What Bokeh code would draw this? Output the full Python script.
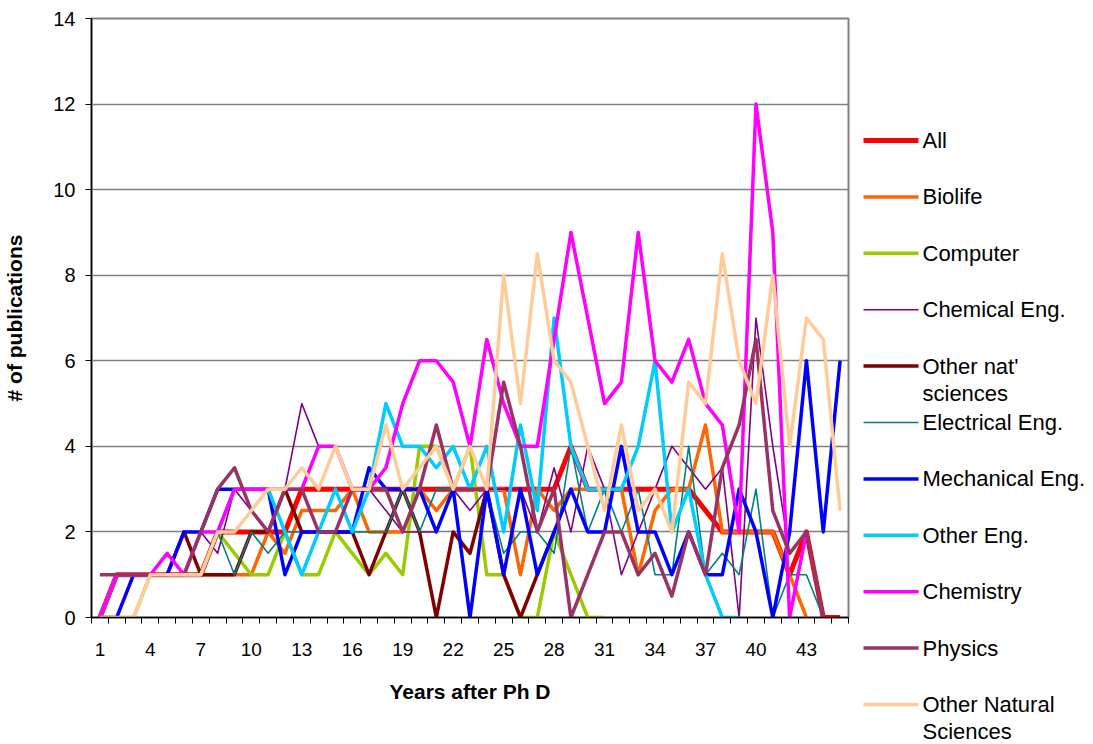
from bokeh.plotting import figure
from bokeh.models import Range1d, FixedTicker, ColumnDataSource
from bokeh.layouts import row, column
from bokeh.embed import file_html
from bokeh.resources import INLINE
from bokeh.core.properties import value

nan = float("nan")

years = list(range(1, 46))
tick_years = list(range(1, 46, 3))
y_ticks = [0, 2, 4, 6, 8, 10, 12, 14]

all_fields = [0,1,1,1,1,1,1,2,2,2, 2,2,3,3,3, 3,3,3,3,3, 3,3,3,3,3, 3,3,3,4,3,
              3,3,3,3,3, 3,2.5,2,2,2, 2,1,2,0,0]
biolife = [0,1,1,1,1,1,1,1,1,1, 2,1.5,2.5,2.5,2.5, 3,2,2,2,3, 2.5,3,3,3,3, 1,3,2.5,3,3,
           3,3,1,2.5,3, 3,4.5,2,2,2, 2,1,0,nan,nan]
computer = [0,0,0,1,1,1,1,2,1.5,1, 1,2,1,1,2, 1.5,1,1.5,1,4, 4,3,4,1,1, 0,0,2,1,0,
            0] + [nan] * 14
chemical_eng = [0,1,1,1,1,1,2,1.5,3,2.5, 2,3,5,4,4, 3,3,2.5,2,2, 2,3,2.5,3,3, 3,2,3.5,2,4,
                3,1,2,3,4, 3.5,3,3.5,0,7, 4,1.5] + [nan] * 3
other_nat = [0,1,1,1,1,2,1,1,1,2, 2,3,2,2,2, 2,1,2,3,2, 0,2,1.5,3,1, 0,1,2] + [nan] * 17
electrical_eng = [0,1,1,1,1,1,1,2,1,2, 1.5,2,2,2,2, 2,2,2,3,2, 3,3,3,3,1.5, 2,2,1.5,4,2,
                  3,2,3,1,1, 4,1,1.5,1,3, 0,1,1,0] + [nan]
mechanical_eng = [0,0,1,1,1,2,2,3,3,3, 3,1,2,2,2, 2,3.5,3,3,3, 2,3,0,3,1, 3,1,2,3,2,
                  2,4,2,2,1, 2,1,1,3,2, 0,2,6,2,6]
other_eng = [0,1,1,1,1,1,1,2,3,3, 3,2,1,2,3, 2,3,5,4,4, 3.5,4,3,4,2, 4.5,2.5,7,4,3,
             3,3,4,6,2, 3,1,0,0] + [nan] * 6
chemistry = [0,1,1,1,1.5,1,2,2,3,3, 3,3,3,4,4, 3,3,3.5,5,6, 6,5.5,4,6.5,5, 4,4,6.5,9,7,
             5,5.5,9,6,5.5, 6.5,5,4.5,2,12, 9,0,2] + [nan] * 2
physics = [1,1,1,1,1,1,2,3,3.5,2.5, 2,3,3,2,2, 3,3,3,2,3, 4.5,3,3,3,5.5, 4,2,3,0,1,
           2,2,1,1.5,0.5, 2,1,3.5,4.5,6.5, 2.5,1.5,2,0] + [nan]
other_natural = [0,0,0,1,1,1,1,2,2,2.5, 3,3,3.5,3,4, 3,3,4.5,3,3.5, 4,3,4,3,8, 5,8.5,6,5.5,4,
                 2.5,4.5,2.5,3,2, 5.5,5,8.5,6,5, 8,4,7,6.5,2.5]

legend_lines = [["All"], ["Biolife"], ["Computer"], ["Chemical Eng."],
                ["Other nat'", "sciences"], ["Electrical Eng."], ["Mechanical Eng."],
                ["Other Eng."], ["Chemistry"], ["Physics"], ["Other Natural", "Sciences"]]
series_values = [all_fields, biolife, computer, chemical_eng, other_nat, electrical_eng,
                 mechanical_eng, other_eng, chemistry, physics, other_natural]
colors = ["#FF0000", "#FF6600", "#99CC00", "#800080", "#800000", "#008080",
          "#0000FF", "#00CCFF", "#FF00FF", "#993366", "#FFCC99"]
widths = [5, 3.5, 3.5, 1.6, 3.5, 1.6, 3.5, 3.5, 3.5, 3.5, 3.5]

FONT = "Liberation Sans"
TOP, BOTTOM = 18, 127
H = 744

p = figure(width=850, height=H, x_range=Range1d(0.5, 45.5), y_range=Range1d(0, 14),
           output_backend="svg", toolbar_location=None,
           min_border_left=90, min_border_right=2, min_border_top=TOP, min_border_bottom=BOTTOM)
p.background_fill_color = "white"
p.border_fill_color = "white"
p.outline_line_color = "#808080"
p.outline_line_width = 2

for vals, c, w in zip(series_values, colors, widths):
    src = ColumnDataSource(dict(x=years, y=vals))
    p.line("x", "y", source=src, line_color=c, line_width=w, line_join="round")

# x axis
p.xaxis.ticker = FixedTicker(ticks=tick_years, minor_ticks=[k + 0.5 for k in range(0, 46)])
p.xaxis.major_tick_out = 0
p.xaxis.major_tick_in = 0
p.xaxis.minor_tick_out = 6
p.xaxis.minor_tick_in = 0
p.xaxis.minor_tick_line_color = "black"
p.xaxis.axis_line_color = "black"
p.xaxis.axis_line_width = 1.5
p.xaxis.major_label_standoff = 19
p.xaxis.major_label_text_font = FONT
p.xaxis.major_label_text_font_size = "19px"
p.xaxis.major_label_text_color = "black"
p.xaxis.axis_label = "Years after Ph D"
p.xaxis.axis_label_text_font = FONT
p.xaxis.axis_label_text_font_style = "bold"
p.xaxis.axis_label_text_font_size = "21px"
p.xaxis.axis_label_text_color = "black"
p.xaxis.axis_label_standoff = 21
p.xgrid.visible = False

# y axis
p.yaxis.ticker = FixedTicker(ticks=y_ticks)
p.yaxis.major_tick_out = 6
p.yaxis.major_tick_in = 0
p.yaxis.minor_tick_line_color = None
p.yaxis.axis_line_color = "black"
p.yaxis.axis_line_width = 1.5
p.yaxis.major_label_standoff = 10
p.yaxis.major_label_text_font = FONT
p.yaxis.major_label_text_font_size = "20px"
p.yaxis.major_label_text_color = "black"
p.yaxis.axis_label = "# of publications"
p.yaxis.axis_label_text_font = FONT
p.yaxis.axis_label_text_font_style = "bold"
p.yaxis.axis_label_text_font_size = "21px"
p.yaxis.axis_label_text_color = "black"
p.yaxis.axis_label_standoff = 24
p.ygrid.grid_line_color = "#808080"
p.ygrid.grid_line_width = 1.5

# legend panel, full-height frame in pixel-like coordinates
leg = figure(width=243, height=H, x_range=Range1d(0, 243), y_range=Range1d(H, 0),
             output_backend="svg", toolbar_location=None, x_axis_type=None, y_axis_type=None,
             min_border_left=0, min_border_right=0, min_border_top=0, min_border_bottom=0)
leg.grid.visible = False
leg.outline_line_color = None
leg.background_fill_color = "white"
leg.border_fill_color = "white"

y0, step = 140, 56.4
tx, ty, tt = [], [], []
for i, (lines, c, w) in enumerate(zip(legend_lines, colors, widths)):
    yy = y0 + i * step
    leg.segment(x0=[13], y0=[yy], x1=[68], y1=[yy], line_color=c, line_width=w)
    for j, t in enumerate(lines):
        tx.append(72)
        ty.append(yy + j * 27)
        tt.append(t)
leg.text(x=tx, y=ty, text=tt, text_font=value(FONT), text_font_size="22px",
         text_baseline="middle", text_align="left", text_color="black")

layout = row(p, column(leg))
open("out.html", "w").write(file_html(layout, INLINE))
